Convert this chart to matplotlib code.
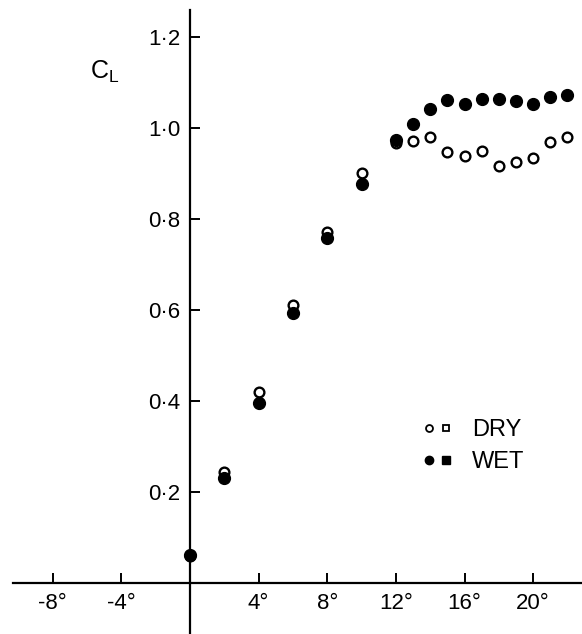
import numpy as np
import matplotlib
matplotlib.use('Agg')
import matplotlib.pyplot as plt
from matplotlib.lines import Line2D
from matplotlib.legend_handler import HandlerTuple

plt.rcParams['font.family'] = ['Liberation Sans', 'DejaVu Sans']
plt.rcParams['mathtext.fontset'] = 'custom'
plt.rcParams['mathtext.rm'] = 'Liberation Sans'

# 1. Datos (angulo de ataque en grados, coeficiente de sustentacion)
angulos = [0, 2, 4, 6, 8, 10, 12, 13, 14, 15, 16, 17, 18, 19, 20, 21, 22]
cl_seco = [0.06, 0.245, 0.42, 0.61, 0.772, 0.90, 0.966, 0.971, 0.980, 0.947,
           0.938, 0.949, 0.916, 0.925, 0.934, 0.969, 0.980]
cl_mojado = [0.062, 0.231, 0.395, 0.594, 0.758, 0.876, 0.974, 1.009, 1.042, 1.062,
             1.053, 1.064, 1.064, 1.059, 1.053, 1.068, 1.073]

ticks_x = [-8, -4, 4, 8, 12, 16, 20]
etiquetas_x = ['-8°', '-4°', '4°', '8°', '12°', '16°', '20°']
ticks_y = [0.2, 0.4, 0.6, 0.8, 1.0, 1.2]
etiquetas_y = ['0·2', '0·4', '0·6', '0·8', '1·0', '1·2']

# 2. Figura y ejes (los ejes cruzan en el origen)
fig = plt.figure(figsize=(5.82, 6.34), dpi=100)
ax = fig.add_axes([0, 0, 1, 1])
ax.set_xlim(-11.08, 22.85)
ax.set_ylim(-0.112, 1.281)

ax.spines['left'].set_position(('data', 0))
ax.spines['bottom'].set_position(('data', 0))
ax.spines['right'].set_visible(False)
ax.spines['top'].set_visible(False)
ax.spines['left'].set_bounds(-0.2, 1.258)
ax.spines['bottom'].set_bounds(-10.35, 23)
for lado in ['left', 'bottom']:
    ax.spines[lado].set_linewidth(1.6)

ax.set_xticks(ticks_x)
ax.set_xticklabels(etiquetas_x)
ax.set_yticks(ticks_y)
ax.set_yticklabels(etiquetas_y)
ax.tick_params(axis='both', direction='in', length=7, width=1.4, labelsize=16, pad=7)

# 3. Puntos
ax.plot(angulos, cl_seco, 'o', ls='none', ms=7, mfc='white', mec='black', mew=1.7, zorder=3)
ax.plot(angulos, cl_mojado, 'o', ls='none', ms=8.5, mfc='black', mec='black', zorder=4)

# 4. Etiqueta C_L
ax.text(-4.95, 1.122, r'$\mathrm{C_L}$', fontsize=18, ha='center', va='center')

# 5. Leyenda
seco_c = Line2D([], [], marker='o', ls='none', ms=5, mfc='white', mec='black', mew=1.3)
seco_s = Line2D([], [], marker='s', ls='none', ms=5, mfc='white', mec='black', mew=1.3)
moj_c = Line2D([], [], marker='o', ls='none', ms=6, mfc='black', mec='black')
moj_s = Line2D([], [], marker='s', ls='none', ms=5.5, mfc='black', mec='black')
ax.legend([(seco_c, seco_s), (moj_c, moj_s)], ['DRY', 'WET'],
          handler_map={tuple: HandlerTuple(ndivide=None, pad=0.2)},
          loc='upper left', bbox_to_anchor=(0.705, 0.358), frameon=False,
          fontsize=17, handlelength=1.3, handletextpad=0.8, labelspacing=0.45,
          borderpad=0)

fig.savefig('out.png', dpi=100)
